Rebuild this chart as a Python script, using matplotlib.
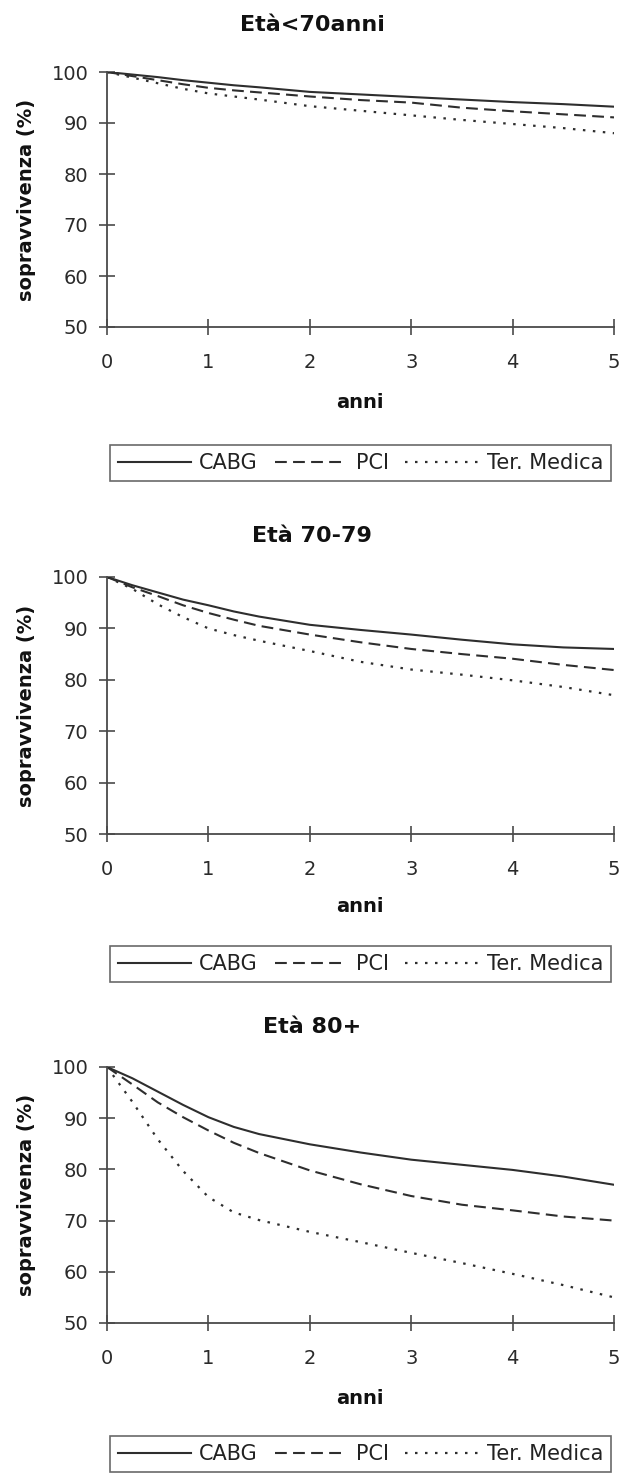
import matplotlib
matplotlib.use("Agg")
import matplotlib.pyplot as plt

plt.rcParams['font.family'] = ['DejaVu Sans']
plt.rcParams['lines.scale_dashes'] = False

# ---- data ----
years = [0, 0.25, 0.5, 0.75, 1, 1.25, 1.5, 2, 2.5, 3, 3.5, 4, 4.5, 5]
series_names = ["CABG", "PCI", "Ter. Medica"]
titles = ["Età<70anni", "Età 70-79", "Età 80+"]

p1_cabg = [100, 99.5, 99.0, 98.4, 97.9, 97.4, 97.0, 96.1, 95.6, 95.1, 94.6, 94.1, 93.7, 93.2]
p1_pci = [100, 99.2, 98.4, 97.6, 96.9, 96.4, 96.0, 95.2, 94.5, 94.0, 93.0, 92.3, 91.7, 91.1]
p1_med = [100, 98.9, 97.8, 96.7, 95.8, 95.2, 94.6, 93.3, 92.4, 91.5, 90.6, 89.8, 89.0, 88.0]

p2_cabg = [100, 98.4, 97.0, 95.6, 94.5, 93.3, 92.3, 90.7, 89.7, 88.8, 87.8, 86.9, 86.3, 86.0]
p2_pci = [100, 98.0, 96.3, 94.5, 93.0, 91.7, 90.5, 88.8, 87.3, 86.0, 85.0, 84.1, 82.9, 81.9]
p2_med = [100, 97.7, 94.7, 92.2, 90.0, 88.7, 87.6, 85.6, 83.5, 82.0, 81.0, 79.9, 78.6, 77.0]

p3_cabg = [100, 97.8, 95.2, 92.6, 90.2, 88.3, 86.9, 84.9, 83.3, 81.9, 80.9, 79.9, 78.6, 77.0]
p3_pci = [100, 96.6, 93.1, 90.2, 87.6, 85.2, 83.2, 79.8, 77.1, 74.8, 73.1, 72.0, 70.8, 70.0]
p3_med = [100, 93.2, 85.9, 79.7, 74.6, 71.6, 70.1, 67.8, 65.8, 63.7, 61.7, 59.6, 57.4, 55.0]

panels = [(p1_cabg, p1_pci, p1_med), (p2_cabg, p2_pci, p2_med), (p3_cabg, p3_pci, p3_med)]

xticks = [0, 1, 2, 3, 4, 5]
yticks = [50, 60, 70, 80, 90, 100]

# ---- layout (pixels) ----
W, H = 620, 1474
fig = plt.figure(figsize=(W / 100, H / 100), dpi=100)
ax_left, ax_right = 107, 614
ax_tops = [72, 577, 1067]
ax_bots = [327, 834, 1323]
title_y = [25, 536, 1027]
xlabel_y = [403, 907, 1398]
legend_y = [463, 964, 1454]

line_color = '#2e2e2e'
axis_color = '#4a4a4a'
styles = [dict(linestyle='-', lw=1.5),
          dict(linestyle=(0, (8.5, 4.5)), lw=1.5),
          dict(linestyle=(0, (1.8, 5.4)), lw=1.6)]

for i, data in enumerate(panels):
    ax = fig.add_axes([ax_left / W, 1 - ax_bots[i] / H,
                       (ax_right - ax_left) / W, (ax_bots[i] - ax_tops[i]) / H])
    handles = []
    for vals, name, st in zip(data, series_names, styles):
        h, = ax.plot(years, vals, color=line_color, label=name, **st)
        handles.append(h)
    ax.set_xlim(0, 5)
    ax.set_ylim(50, 100)
    ax.set_xticks(xticks)
    ax.set_yticks(yticks)
    for s in ['top', 'right']:
        ax.spines[s].set_visible(False)
    for s in ['left', 'bottom']:
        ax.spines[s].set_color(axis_color)
        ax.spines[s].set_linewidth(1.3)
    ax.tick_params(axis='both', direction='inout', length=11, width=1.2,
                   color=axis_color, labelsize=14, labelcolor='#2a2a2a')
    ax.tick_params(axis='y', pad=8)
    ax.tick_params(axis='x', pad=13)

    fig.text(312 / W, 1 - title_y[i] / H, titles[i], ha='center', va='center',
             fontsize=16, fontweight='bold', color='#111111')
    fig.text(360 / W, 1 - xlabel_y[i] / H, "anni", ha='center', va='center',
             fontsize=14, fontweight='bold', color='#111111')
    fig.text(26 / W, 1 - (ax_tops[i] + ax_bots[i]) / 2 / H, "sopravvivenza (%)",
             ha='center', va='center', rotation=90,
             fontsize=14, fontweight='bold', color='#111111')

    leg = fig.legend(handles=handles, loc='center',
                     bbox_to_anchor=(360.5 / W, 1 - legend_y[i] / H),
                     ncol=3, fontsize=15, frameon=True, fancybox=False,
                     handlelength=3.5, handletextpad=0.4, columnspacing=0.8,
                     borderpad=0.4, borderaxespad=0)
    fr = leg.get_frame()
    fr.set_edgecolor('#444444')
    fr.set_linewidth(1.2)
    for t in leg.get_texts():
        t.set_color('#222222')

fig.savefig("out.png", dpi=100)
